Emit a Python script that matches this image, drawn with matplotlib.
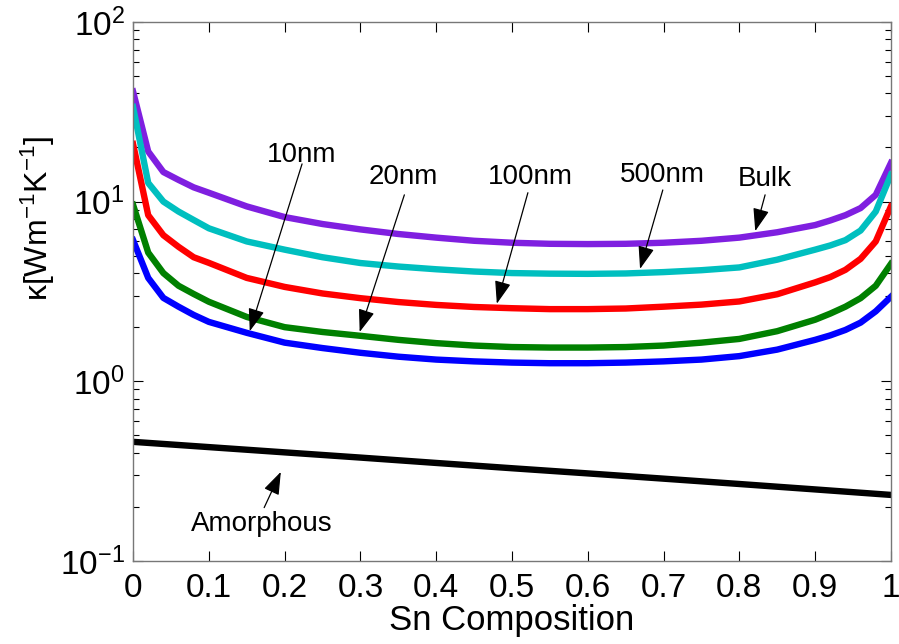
import matplotlib
matplotlib.use("Agg")
import matplotlib.pyplot as plt
from matplotlib.ticker import LogLocator, NullFormatter, FixedLocator

plt.rcParams['font.family'] = ['Liberation Sans', 'DejaVu Sans']
plt.rcParams['mathtext.fontset'] = 'custom'
plt.rcParams['mathtext.rm'] = 'Liberation Sans'
plt.rcParams['mathtext.it'] = 'Liberation Sans:italic'

# Sn composition grid
x = [0, 0.02, 0.04, 0.06, 0.08, 0.1, 0.15, 0.2, 0.25, 0.3, 0.35, 0.4, 0.45, 0.5,
     0.55, 0.6, 0.65, 0.7, 0.75, 0.8, 0.85, 0.9, 0.92, 0.94, 0.96, 0.98, 1.0]

# thermal conductivity (W/m/K)
k_bulk = [41, 19, 14.6, 13.2, 12.0, 11.2, 9.4, 8.2, 7.5, 7.0, 6.6, 6.3, 6.05, 5.9,
          5.82, 5.8, 5.82, 5.9, 6.05, 6.3, 6.75, 7.4, 7.85, 8.4, 9.2, 10.9, 16.4]
k_500nm = [33.6, 12.7, 10.0, 8.8, 7.9, 7.1, 6.0, 5.4, 4.9, 4.55, 4.35, 4.2, 4.08, 4.0,
           3.97, 3.96, 3.98, 4.05, 4.15, 4.3, 4.75, 5.4, 5.7, 6.1, 6.9, 8.8, 14.1]
k_100nm = [20.9, 8.4, 6.5, 5.6, 4.9, 4.56, 3.76, 3.35, 3.08, 2.9, 2.76, 2.66, 2.59, 2.55,
           2.52, 2.52, 2.54, 2.6, 2.67, 2.78, 3.05, 3.55, 3.8, 4.17, 4.8, 6.0, 9.4]
k_20nm = [9.6, 5.2, 4.0, 3.4, 3.06, 2.77, 2.28, 2.0, 1.88, 1.79, 1.7, 1.63, 1.58, 1.55,
          1.54, 1.54, 1.55, 1.58, 1.64, 1.72, 1.9, 2.2, 2.38, 2.6, 2.9, 3.4, 4.5]
k_10nm = [6.1, 3.76, 2.91, 2.6, 2.34, 2.14, 1.86, 1.64, 1.53, 1.44, 1.37, 1.32, 1.29, 1.27,
          1.26, 1.26, 1.27, 1.29, 1.32, 1.38, 1.5, 1.70, 1.8, 1.93, 2.12, 2.45, 2.95]

x_amorph = [0, 0.1, 0.2, 0.3, 0.4, 0.5, 0.6, 0.7, 0.8, 0.9, 1.0]
k_amorph = [0.46, 0.43, 0.402, 0.376, 0.351, 0.328, 0.307, 0.287, 0.268, 0.25, 0.233]

series = [
    (k_bulk, '#7f1fe0'),
    (k_500nm, '#00bfbf'),
    (k_100nm, '#ff0000'),
    (k_20nm, '#008000'),
    (k_10nm, '#0000ff'),
]

# label text, text centre, arrow tail, arrow tip (data coords)
labels = [
    ('10nm', (0.223, 18.2), (0.223, 16.2), (0.154, 1.90)),
    ('20nm', (0.356, 13.7), (0.358, 10.9), (0.299, 1.88)),
    ('100nm', (0.524, 13.7), (0.521, 11.2), (0.480, 2.70)),
    ('500nm', (0.699, 14.1), (0.699, 11.6), (0.669, 4.22)),
    ('Bulk', (0.834, 13.4), (0.834, 10.9), (0.821, 6.85)),
    ('Amorphous', (0.170, 0.161), (0.173, 0.198), (0.195, 0.313)),
]

fig = plt.figure(figsize=(8.99, 6.44), dpi=100)
ax = fig.add_axes([0.148, 0.129, 0.843, 0.837])

for vals, col in series:
    ax.plot(x, vals, color=col, lw=4.6, solid_joinstyle='round')
ax.plot(x_amorph, k_amorph, color='k', lw=4.6)

ax.set_yscale('log')
ax.set_xlim(0, 1)
ax.set_ylim(0.1, 100)
ax.xaxis.set_major_locator(FixedLocator([0, 0.1, 0.2, 0.3, 0.4, 0.5, 0.6, 0.7, 0.8, 0.9, 1]))
ax.set_xticklabels(['0', '0.1', '0.2', '0.3', '0.4', '0.5', '0.6', '0.7', '0.8', '0.9', '1'])
ax.yaxis.set_minor_locator(LogLocator(base=10, subs=range(2, 10)))
ax.yaxis.set_minor_formatter(NullFormatter())

ax.tick_params(which='both', direction='in', top=True, right=True, labelsize=24, colors='k')
ax.tick_params(axis='x', which='major', length=7, width=0.8, pad=9)
ax.tick_params(axis='y', which='major', length=7, width=0.8, pad=6)
ax.tick_params(which='minor', length=4, width=0.8)
for s in ax.spines.values():
    s.set_color('#777777')
    s.set_linewidth(1.0)

ax.set_xlabel('Sn Composition', fontsize=25, labelpad=0)
ax.set_ylabel('κ[Wm$^{-1}$K$^{-1}$]', fontsize=23)
ax.yaxis.set_label_coords(-0.10, 0.635)

for txt, tpos, tail, tip in labels:
    ax.text(tpos[0], tpos[1], txt, fontsize=20, ha='center', va='center')
    ax.annotate('', xy=tip, xytext=tail,
                arrowprops=dict(arrowstyle='-|>,head_length=0.7,head_width=0.25',
                                color='k', lw=0.9, mutation_scale=20,
                                shrinkA=0, shrinkB=0))

fig.savefig('out.png', dpi=100)
